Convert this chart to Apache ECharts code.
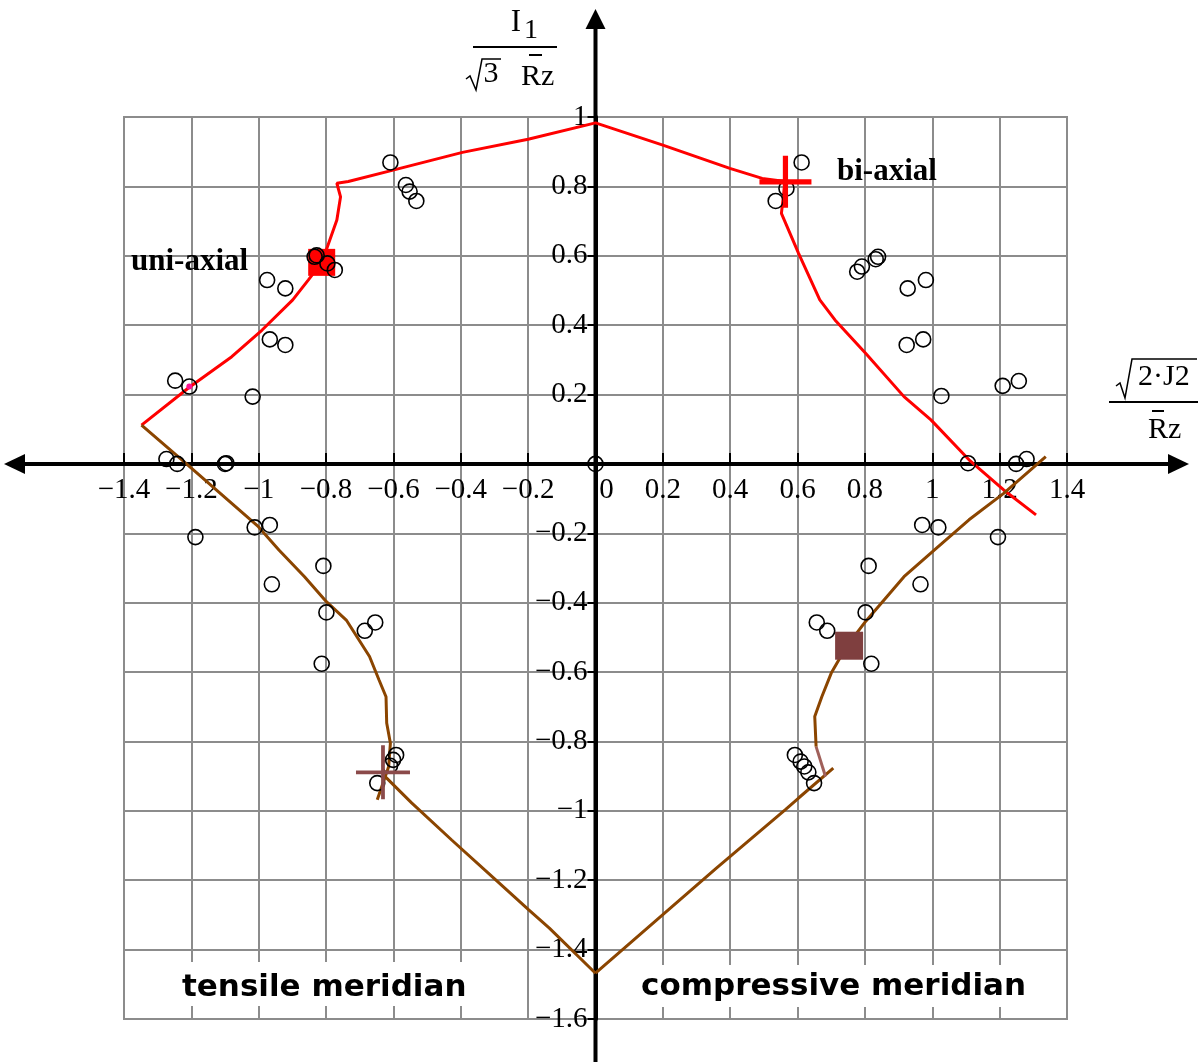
<!DOCTYPE html>
<html>
<head>
<meta charset="utf-8">
<script src="https://cdn.jsdelivr.net/npm/echarts@6/dist/echarts.min.js"></script>
<style>
  html, body { margin: 0; padding: 0; background: #ffffff; }
  #chart { width: 1198px; height: 1062px; }
</style>
</head>
<body>
<div id="chart"></div>
<script>
// Axis ranges and tick step (normalised stress invariants)
const X_RANGE = [-1.4, 1.4];
const Y_RANGE = [-1.6, 1.0];
const TICK_STEP = 0.2;

// Test results: [sqrt(2 J2)/Rz, I1/(sqrt(3) Rz)]
const testPoints = [
  [-0.609, 0.869], [-0.563, 0.804], [-0.552, 0.785], [-0.532, 0.758],
  [-0.834, 0.597], [-0.828, 0.601], [-0.796, 0.578], [-0.774, 0.559],
  [-0.975, 0.530], [-0.921, 0.506], [-0.967, 0.359], [-0.921, 0.343],
  [-1.248, 0.240], [-1.206, 0.223], [-1.018, 0.194], [-1.274, 0.014],
  [-1.242, 0.000], [-1.100, 0.000], [-1.096, 0.002],
  [0.612, 0.869], [0.567, 0.794], [0.535, 0.758], [0.839, 0.597],
  [0.832, 0.590], [0.791, 0.569], [0.777, 0.554], [0.981, 0.530],
  [0.927, 0.506], [0.973, 0.359], [0.924, 0.343], [1.027, 0.196],
  [1.257, 0.239], [1.209, 0.225], [1.106, 0.002], [1.249, 0.000],
  [1.280, 0.014], [0.000, 0.000],
  [-1.012, -0.183], [-0.967, -0.176], [-1.188, -0.211], [-0.808, -0.294],
  [-0.961, -0.347], [-0.799, -0.428], [-0.654, -0.457], [-0.685, -0.481],
  [-0.813, -0.576], [-0.592, -0.839], [-0.601, -0.853], [-0.610, -0.870],
  [-0.648, -0.920],
  [0.970, -0.176], [1.018, -0.183], [1.195, -0.211], [0.811, -0.294],
  [0.965, -0.347], [0.802, -0.428], [0.657, -0.457], [0.688, -0.481],
  [0.819, -0.576], [0.592, -0.839], [0.609, -0.858], [0.620, -0.872],
  [0.632, -0.889], [0.649, -0.920]
];

// Upper failure curve (red)
const upperCurve = [
  [-1.348, 0.112], [-1.206, 0.221], [-1.080, 0.309], [-0.990, 0.386],
  [-0.899, 0.473], [-0.853, 0.530], [-0.813, 0.581], [-0.796, 0.626],
  [-0.768, 0.703], [-0.757, 0.770], [-0.768, 0.809], [-0.734, 0.814],
  [-0.601, 0.847], [-0.395, 0.898], [-0.200, 0.936], [0.000, 0.983],
  [0.200, 0.919], [0.399, 0.852], [0.495, 0.823], [0.563, 0.814],
  [0.552, 0.722], [0.603, 0.607], [0.666, 0.473], [0.711, 0.415],
  [0.802, 0.319], [0.916, 0.194], [0.996, 0.127], [1.109, 0.012],
  [1.212, -0.075], [1.308, -0.147]
];

// Tensile meridian (brown, left)
const tensileCurve = [
  [-1.348, 0.112], [-1.217, 0.002], [-1.001, -0.181], [-0.940, -0.248],
  [-0.864, -0.325], [-0.799, -0.397], [-0.740, -0.450], [-0.671, -0.555],
  [-0.643, -0.622], [-0.622, -0.671], [-0.620, -0.747], [-0.609, -0.805],
  [-0.614, -0.872], [-0.648, -0.968]
];
const tensileTail = [
  [-0.626, -0.900], [-0.546, -0.977], [-0.427, -1.084], [-0.302, -1.194],
  [-0.199, -1.285], [-0.137, -1.338], [0.000, -1.468]
];

// Compressive meridian (brown, right)
const compressiveTail = [
  [0.000, -1.468], [0.188, -1.309], [0.359, -1.165], [0.563, -0.997],
  [0.603, -0.963], [0.706, -0.877]
];
const compressiveLink = [[0.683, -0.901], [0.655, -0.815]];
const compressiveCurve = [
  [0.655, -0.815], [0.651, -0.728], [0.672, -0.671], [0.700, -0.603],
  [0.745, -0.527], [0.802, -0.454], [0.916, -0.325], [1.010, -0.245],
  [1.109, -0.161], [1.212, -0.085], [1.337, 0.021]
];

// Reference states
const uniaxialPoint = [[-0.813, 0.581]];
const biaxialPoint = [[0.564, 0.813]];
const tensileMark = [[-0.631, -0.889]];
const compressiveMark = [[0.753, -0.524]];
const highlightPoint = [[-1.206, 0.223]];

const SERIF = '"Liberation Serif", "Times New Roman", serif';
const SANS = '"DejaVu Sans", Verdana, sans-serif';
const RED = '#ff0000';
const BROWN = '#8b4500';
const ROSE = '#7f3f3f';

const PLUS_THICK = 'path://M45,0L55,0L55,45L100,45L100,55L55,55L55,100L45,100L45,55L0,55L0,45L45,45Z';
const PLUS_THIN = 'path://M46.5,0L53.5,0L53.5,46.5L100,46.5L100,53.5L53.5,53.5L53.5,100L46.5,100L46.5,53.5L0,53.5L0,46.5L46.5,46.5Z';

const GRID = { left: 124, top: 117, width: 943, height: 902 };

function tickText(v) {
  const s = String(Math.round(v * 10) / 10);
  return s.replace('-', '\u2212');
}

function lineSeries(data, color, width) {
  return {
    type: 'line', data: data, showSymbol: false, symbol: 'none',
    lineStyle: { color: color, width: width }, z: 3, silent: true
  };
}

function markSeries(data, symbol, size, style, z) {
  return {
    type: 'scatter', data: data, symbol: symbol, symbolSize: size,
    itemStyle: Object.assign({ opacity: 1 }, style), z: z, silent: true
  };
}

const chart = echarts.init(document.getElementById('chart'), null, { renderer: 'canvas' });

chart.setOption({
  animation: false,
  backgroundColor: '#ffffff',
  grid: Object.assign({
    show: true, borderColor: '#8c8c8c', borderWidth: 2, backgroundColor: 'transparent'
  }, GRID),
  xAxis: {
    type: 'value', min: X_RANGE[0], max: X_RANGE[1], interval: TICK_STEP,
    position: 'bottom',
    axisLine: { show: true, onZero: false, lineStyle: { color: '#000', width: 4 } },
    axisTick: { show: true, inside: true, length: 11, lineStyle: { color: '#000', width: 2 } },
    splitLine: { show: true, lineStyle: { color: '#8c8c8c', width: 2 } },
    axisLabel: {
      margin: 12, color: '#000', fontFamily: SERIF, fontSize: 29,
      showMinLabel: true, showMaxLabel: true,
      formatter: function (v) { return Math.abs(v) < 1e-9 ? '{z|0}' : tickText(v); },
      rich: { z: { padding: [0, 0, 0, 22], fontFamily: SERIF, fontSize: 29, color: '#000' } }
    }
  },
  yAxis: {
    type: 'value', min: Y_RANGE[0], max: Y_RANGE[1], interval: TICK_STEP,
    position: 'left',
    axisLine: { show: true, onZero: false, lineStyle: { color: '#000', width: 4 } },
    axisTick: { show: true, inside: false, length: 8, lineStyle: { color: '#000', width: 2 } },
    splitLine: { show: true, lineStyle: { color: '#8c8c8c', width: 2 } },
    axisLabel: {
      margin: 8, color: '#000', fontFamily: SERIF, fontSize: 29, padding: [9, 0, 0, 0],
      showMinLabel: true, showMaxLabel: true,
      formatter: function (v) { return Math.abs(v) < 1e-9 ? '' : tickText(v); }
    }
  },
  series: [
    lineSeries(upperCurve, RED, 3),
    lineSeries(tensileCurve, BROWN, 3),
    lineSeries(tensileTail, BROWN, 3),
    lineSeries(compressiveTail, BROWN, 3),
    lineSeries(compressiveLink, '#a0605a', 3),
    lineSeries(compressiveCurve, BROWN, 3),
    markSeries(uniaxialPoint, 'rect', 27, { color: RED }, 4),
    markSeries(compressiveMark, 'rect', 28, { color: ROSE }, 4),
    markSeries(testPoints, 'circle', 15,
      { color: 'rgba(255,255,255,0)', borderColor: '#000', borderWidth: 1.6 }, 5),
    markSeries(highlightPoint, 'circle', 6, { color: '#ff1493' }, 6),
    markSeries(biaxialPoint, PLUS_THICK, 52, { color: RED }, 6),
    markSeries(tensileMark, PLUS_THIN, 54, { color: '#8b4a4a' }, 6)
  ]
});

// Move both axes (line, ticks, labels) onto the origin
const o = chart.convertToPixel({ gridIndex: 0 }, [0, 0]);
const ox = o[0], oy = o[1];
chart.setOption({
  xAxis: { offset: -(GRID.top + GRID.height - oy) },
  yAxis: { offset: -(ox - GRID.left) }
});

// Axis arrows, titles and annotations
const H = 1062;
const black = { stroke: '#000', lineWidth: 4 };
const thin = { stroke: '#000', lineWidth: 2 };

function txt(text, x, y, font, align) {
  return {
    type: 'text', z: 10, silent: true,
    style: { text: text, x: x, y: y, font: font, fill: '#000', align: align || 'left', verticalAlign: 'middle' }
  };
}

chart.setOption({
  graphic: [
    // white boxes behind the meridian names
    { type: 'rect', z: 1, silent: true, shape: { x: 128, y: 962, width: 378, height: 44 }, style: { fill: '#fff' } },
    { type: 'rect', z: 1, silent: true, shape: { x: 600, y: 965, width: 462, height: 42 }, style: { fill: '#fff' } },

    // horizontal axis extensions
    { type: 'line', z: 2, silent: true, shape: { x1: 20, y1: oy, x2: 1172, y2: oy }, style: black },
    { type: 'polygon', z: 2, silent: true, shape: { points: [[4, oy], [25, oy - 10], [25, oy + 10]] }, style: { fill: '#000' } },
    { type: 'polygon', z: 2, silent: true, shape: { points: [[1189, oy], [1168, oy - 10], [1168, oy + 10]] }, style: { fill: '#000' } },
    // vertical axis extensions
    { type: 'line', z: 2, silent: true, shape: { x1: ox, y1: 25, x2: ox, y2: H }, style: black },
    { type: 'polygon', z: 2, silent: true, shape: { points: [[ox, 9], [ox - 10, 29], [ox + 10, 29]] }, style: { fill: '#000' } },

    // vertical axis title: I1 / (sqrt(3) Rz)
    txt('I', 516, 23, '31px ' + SERIF, 'center'),
    txt('1', 531, 31, '28px ' + SERIF, 'center'),
    { type: 'line', z: 10, silent: true, shape: { x1: 473, y1: 47, x2: 557, y2: 47 }, style: thin },
    { type: 'polyline', z: 10, silent: true, shape: { points: [[466, 79], [470, 76], [476, 90], [482, 59], [501, 59]] }, style: { stroke: '#000', lineWidth: 1.5, fill: null } },
    txt('3', 491, 74, '30px ' + SERIF, 'center'),
    txt('Rz', 521, 77, '30px ' + SERIF, 'left'),
    { type: 'line', z: 10, silent: true, shape: { x1: 529, y1: 55, x2: 542, y2: 55 }, style: thin },

    // horizontal axis title: sqrt(2 J2) / Rz
    { type: 'polyline', z: 10, silent: true, shape: { points: [[1116, 386], [1120, 383], [1125, 398], [1132, 359], [1197, 359]] }, style: { stroke: '#000', lineWidth: 1.5, fill: null } },
    txt('2\u00b7J2', 1138, 377, '30px ' + SERIF, 'left'),
    { type: 'line', z: 10, silent: true, shape: { x1: 1109, y1: 402, x2: 1198, y2: 402 }, style: thin },
    txt('Rz', 1148, 430, '30px ' + SERIF, 'left'),
    { type: 'line', z: 10, silent: true, shape: { x1: 1152, y1: 411, x2: 1164, y2: 411 }, style: thin },

    // annotations
    txt('uni-axial', 131, 262, 'bold 31px ' + SERIF, 'left'),
    txt('bi-axial', 837, 172, 'bold 31px ' + SERIF, 'left'),
    txt('tensile meridian', 182, 988, 'bold 31px ' + SANS, 'left'),
    txt('compressive meridian', 641, 987, 'bold 31px ' + SANS, 'left')
  ]
});
</script>
</body>
</html>
